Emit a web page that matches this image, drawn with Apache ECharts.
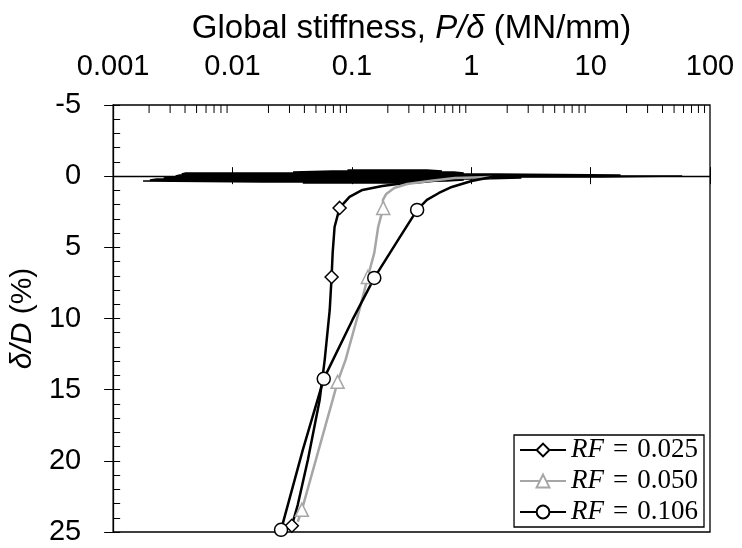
<!DOCTYPE html>
<html>
<head>
<meta charset="utf-8">
<script src="https://cdn.jsdelivr.net/npm/echarts@6/dist/echarts.min.js"></script>
<style>
  html, body { margin: 0; padding: 0; background: #fff; }
  #main { width: 742px; height: 548px; }
</style>
</head>
<body>
<div id="main"></div>
<script>
// tick labels of the log axis (one per decade)
var xTickLabels = ['0.001', '0.01', '0.1', '1', '10', '100'];
var xDecades = [0.001, 0.01, 0.1, 1, 10];
var minorMultipliers = [2, 3, 4, 5, 6, 7, 8, 9];

// cyclic part near delta/D = 0 : one row per pixel band, left and right stiffness reached
var bandY = [-0.435, -0.365, -0.295, -0.225, -0.154, -0.084, -0.014, 0.056, 0.126, 0.197, 0.267, 0.337, 0.407, 0.478];
var bandLeft = [0.0918, 0.069, 0.0321, 0.00405, 0.00375, 0.00361, 0.00334, 0.00298, 0.00265, 0.00232, 0.00203, 0.00178, 0.0181, 0.0388];
var bandRight = [0.425, 0.568, 0.715, 0.865, 1.6, 17.8, 58.5, 12.2, 2.63, 1.22, 0.865, 0.623, 0.425, 0.29];

// RF = 0.025
var rf025X = [1.0, 0.687, 0.386, 0.279, 0.180, 0.1225, 0.0955, 0.0789, 0.0716, 0.0690, 0.0676, 0.0652, 0.0592, 0.0537, 0.0428, 0.0352, 0.0314];
var rf025Y = [0.06, 0.20, 0.41, 0.48, 0.69, 0.97, 1.46, 2.23, 3.57, 5.39, 7.08, 9.40, 12.91, 15.72, 19.93, 23.09, 24.56];
var rf025Marks = [7, 10, 16];

// RF = 0.050
var rf050X = [1.479, 0.728, 0.443, 0.290, 0.226, 0.194, 0.182, 0.183, 0.166, 0.154, 0.136, 0.1156, 0.0885, 0.0759, 0.0690, 0.0381, 0.0352];
var rf050Y = [0.06, 0.13, 0.34, 0.55, 0.83, 1.25, 1.67, 2.23, 3.57, 5.39, 7.08, 9.40, 12.91, 14.45, 15.72, 23.44, 24.28];
var rf050Marks = [7, 10, 13, 15];

// RF = 0.106
var rf106X = [2.63, 1.479, 1.007, 0.687, 0.536, 0.425, 0.352, 0.244, 0.154, 0.101, 0.0581, 0.0388, 0.0255];
var rf106Y = [0.0, 0.06, 0.34, 0.76, 1.18, 1.67, 2.37, 4.48, 7.15, 10.10, 14.24, 19.23, 24.85];
var rf106Marks = [6, 8, 10, 12];

var names = ['RF = 0.025', 'RF = 0.050', 'RF = 0.106'];

function curve(xs, ys, marks) {
  return xs.map(function (x, i) {
    if (marks.indexOf(i) >= 0) return { value: [x, ys[i]] };
    return { value: [x, ys[i]], symbol: 'none' };
  });
}

// zigzag through the rows so the cycles fill the band
var band = [];
bandY.forEach(function (y, i) {
  if (i % 2 === 0) {
    band.push([bandLeft[i], y], [bandRight[i], y]);
  } else {
    band.push([bandRight[i], y], [bandLeft[i], y]);
  }
});

var minorTicks = [];
xDecades.forEach(function (d) {
  minorMultipliers.forEach(function (m) { minorTicks.push([d * m, -5]); });
});

var font = 'Liberation Sans, Arial, sans-serif';
var myChart = echarts.init(document.getElementById('main'));

myChart.setOption({
  animation: false,
  grid: {
    left: 109, right: 32, top: 105, bottom: 16,
    show: true, borderColor: '#000', borderWidth: 1.3
  },
  legend: {
    data: names,
    orient: 'vertical',
    right: 38,
    bottom: 21,
    backgroundColor: '#fff',
    borderColor: '#000',
    borderWidth: 1.3,
    padding: [1, 6, 1, 5],
    itemGap: 3,
    itemWidth: 46,
    itemHeight: 16,
    textStyle: {
      fontFamily: 'Liberation Serif, serif', fontSize: 27, color: '#000', lineHeight: 28,
      rich: { i: { fontStyle: 'italic', fontFamily: 'Liberation Serif, serif', fontSize: 27, lineHeight: 28 } }
    },
    formatter: function (name) {
      return '{i|RF}\u2004=\u2004' + name.split('= ')[1];
    }
  },
  xAxis: [
    {
      type: 'log',
      logBase: 10,
      position: 'top',
      min: 0.001,
      max: 100,
      splitNumber: 5,
      name: 'Global stiffness, {i|P/δ} (MN/mm)',
      nameLocation: 'middle',
      nameGap: 60,
      nameTextStyle: {
        fontFamily: font, fontSize: 33, color: '#000',
        rich: { i: { fontStyle: 'italic', fontFamily: font, fontSize: 33 } }
      },
      axisLine: { lineStyle: { color: '#000', width: 1.3 } },
      axisTick: { inside: true, length: 8, lineStyle: { color: '#000' } },
      axisLabel: {
        margin: 24, fontFamily: font, fontSize: 29, color: '#000',
        formatter: function (v) { return xTickLabels[Math.round(Math.log10(v)) + 3]; }
      },
      splitLine: { show: false }
    },
    {
      type: 'log',
      logBase: 10,
      position: 'top',
      min: 0.001,
      max: 100,
      splitNumber: 5,
      axisLine: { show: false },
      axisTick: { inside: false, length: 9, lineStyle: { color: '#000' } },
      axisLabel: { show: false },
      splitLine: { show: false }
    }
  ],
  yAxis: [
    {
      type: 'value',
      inverse: true,
      min: -5,
      max: 25,
      interval: 5,
      name: '{i|δ/D} (%)',
      nameLocation: 'middle',
      nameGap: 72,
      nameTextStyle: {
        fontFamily: font, fontSize: 30, color: '#000',
        rich: { i: { fontStyle: 'italic', fontFamily: font, fontSize: 30 } }
      },
      axisLine: { show: true, lineStyle: { color: '#000', width: 1.3 } },
      axisTick: { inside: true, length: 7, lineStyle: { color: '#000' } },
      minorTick: { show: true, splitNumber: 5, length: 7, lineStyle: { color: '#000' } },
      axisLabel: { margin: 32, fontFamily: font, fontSize: 29, color: '#000' },
      splitLine: { show: false }
    },
    {
      type: 'value',
      inverse: true,
      position: 'left',
      min: -5,
      max: 25,
      interval: 5,
      axisLine: { show: false },
      axisTick: { show: true, inside: false, length: 9, lineStyle: { color: '#000' } },
      axisLabel: { show: false },
      splitLine: { show: false }
    }
  ],
  series: [
    {
      type: 'custom',
      silent: true,
      z: 5,
      renderItem: function (params, api) {
        var p = api.coord([api.value(0), api.value(1)]);
        return {
          type: 'line',
          shape: { x1: p[0], y1: p[1], x2: p[0], y2: p[1] + 8 },
          style: { stroke: '#000', lineWidth: 1 }
        };
      },
      data: minorTicks
    },
    {
      name: 'band',
      type: 'line',
      silent: true,
      showSymbol: false,
      symbol: 'none',
      lineStyle: { color: '#000', width: 1.5 },
      data: band
    },
    {
      name: names[0],
      type: 'line',
      symbol: 'diamond',
      symbolSize: 13,
      lineStyle: { color: '#000', width: 2.5 },
      itemStyle: { color: '#fff', borderColor: '#000', borderWidth: 1.5 },
      emphasis: { disabled: true },
      data: curve(rf025X, rf025Y, rf025Marks)
    },
    {
      name: names[1],
      type: 'line',
      symbol: 'triangle',
      symbolSize: 13,
      lineStyle: { color: '#a6a6a6', width: 2.5 },
      itemStyle: { color: '#fff', borderColor: '#a6a6a6', borderWidth: 1.5 },
      emphasis: { disabled: true },
      data: curve(rf050X, rf050Y, rf050Marks)
    },
    {
      name: names[2],
      type: 'line',
      symbol: 'circle',
      symbolSize: 13,
      lineStyle: { color: '#000', width: 2.5 },
      itemStyle: { color: '#fff', borderColor: '#000', borderWidth: 1.5 },
      emphasis: { disabled: true },
      data: curve(rf106X, rf106Y, rf106Marks)
    }
  ]
});
</script>
</body>
</html>
